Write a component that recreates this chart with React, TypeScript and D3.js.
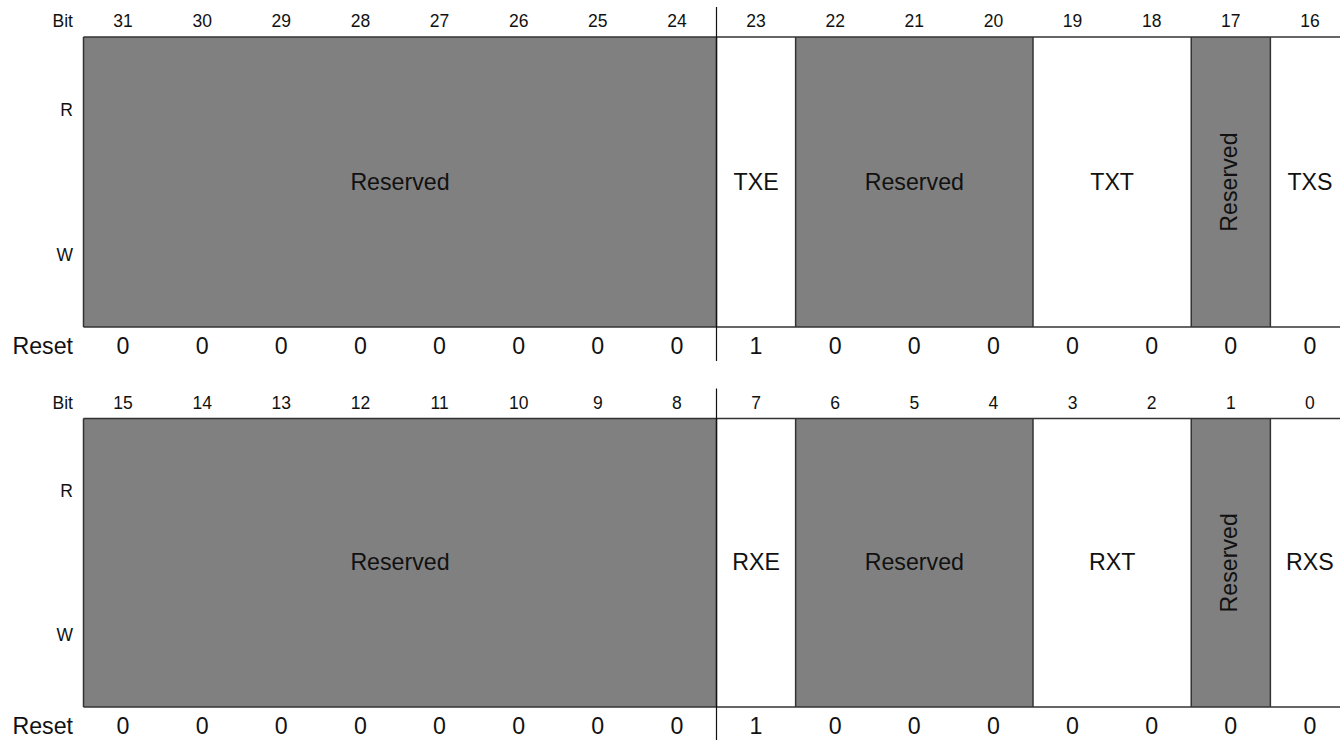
import React from "react";
import * as d3 from "d3";

const bitsHigh = [31, 30, 29, 28, 27, 26, 25, 24, 23, 22, 21, 20, 19, 18, 17, 16];
const bitsLow = [15, 14, 13, 12, 11, 10, 9, 8, 7, 6, 5, 4, 3, 2, 1, 0];
const resetHigh = [0, 0, 0, 0, 0, 0, 0, 0, 1, 0, 0, 0, 0, 0, 0, 0];
const resetLow = [0, 0, 0, 0, 0, 0, 0, 0, 1, 0, 0, 0, 0, 0, 0, 0];
const fieldNamesHigh = ["Reserved", "TXE", "Reserved", "TXT", "Reserved", "TXS"];
const fieldNamesLow = ["Reserved", "RXE", "Reserved", "RXT", "Reserved", "RXS"];
const fieldMsbOffset = [0, 8, 9, 12, 14, 15];
const fieldLsbOffset = [7, 8, 11, 13, 14, 15];
const fieldReserved = [true, false, true, false, true, false];
const accessLabels = ["R", "W"];

const W = 1340;
const H = 740;
const FONT = "'Liberation Sans', Arial, Helvetica, sans-serif";
const LEFT = 83.5;
const COLW = 79.125;
const SEP_INDEX = 8;
const STROKE = "#333";
const SMALL = 17.5;
const BIG = 23.2;

function Register({ bits, reset, names, top, bottom, sepBottom }: any) {
  const x = d3
    .scaleBand<number>()
    .domain(bits)
    .range([LEFT, LEFT + COLW * bits.length])
    .padding(0);
  const y = d3.scaleLinear().domain([0, 1]).range([top, bottom]);
  const sepX = x(bits[SEP_INDEX])!;
  const rightEdge = LEFT + COLW * bits.length;
  return (
    <g>
      <text x={73} y={top - 10} textAnchor="end" fontSize={SMALL} fontFamily={FONT} fill="#111">
        Bit
      </text>
      {bits.map((b: number) => (
        <text
          key={"b" + b}
          x={x(b)! + x.bandwidth() / 2}
          y={top - 10}
          textAnchor="middle"
          fontSize={SMALL}
          fontFamily={FONT}
          fill="#111"
        >
          {b}
        </text>
      ))}
      {accessLabels.map((l, i) => (
        <text
          key={l}
          x={73}
          y={y(i === 0 ? 0.25 : 0.75) + 6}
          textAnchor="end"
          fontSize={SMALL}
          fontFamily={FONT}
          fill="#111"
        >
          {l}
        </text>
      ))}
      {names.map((n: string, i: number) => {
        const x0 = x(bits[fieldMsbOffset[i]])!;
        const x1 = x(bits[fieldLsbOffset[i]])! + x.bandwidth();
        const cx = (x0 + x1) / 2;
        const cy = (top + bottom) / 2;
        const vertical = fieldMsbOffset[i] === fieldLsbOffset[i] && fieldReserved[i];
        return (
          <g key={"f" + i}>
            <rect
              x={x0}
              y={top}
              width={x1 - x0}
              height={bottom - top}
              fill={fieldReserved[i] ? "#808080" : "#ffffff"}
              stroke="none"
            />
            {vertical ? (
              <text
                transform={`translate(${cx + 6.5},${cy}) rotate(-90)`}
                textAnchor="middle"
                fontSize={BIG}
                fontFamily={FONT}
                fill="#111"
              >
                {n}
              </text>
            ) : (
              <text x={cx} y={cy + 7.5} textAnchor="middle" fontSize={BIG} fontFamily={FONT} fill="#111">
                {n}
              </text>
            )}
          </g>
        );
      })}
      {names.map((n: string, i: number) => {
        const x0 = x(bits[fieldMsbOffset[i]])!;
        return <line key={"v" + i} x1={x0} x2={x0} y1={top} y2={bottom} stroke={STROKE} strokeWidth={1.5} />;
      })}
      <line x1={LEFT} x2={rightEdge} y1={top} y2={top} stroke={STROKE} strokeWidth={1.5} />
      <line x1={LEFT} x2={rightEdge} y1={bottom} y2={bottom} stroke={STROKE} strokeWidth={1.5} />
      <line x1={sepX} x2={sepX} y1={top - 30} y2={sepBottom} stroke="#111" strokeWidth={1.2} />
      <text x={73} y={bottom + 27} textAnchor="end" fontSize={BIG} fontFamily={FONT} fill="#111">
        Reset
      </text>
      {bits.map((b: number, i: number) => (
        <text
          key={"r" + b}
          x={x(b)! + x.bandwidth() / 2}
          y={bottom + 27}
          textAnchor="middle"
          fontSize={BIG}
          fontFamily={FONT}
          fill="#111"
        >
          {reset[i]}
        </text>
      ))}
    </g>
  );
}

export default function App() {
  return (
    <svg
      width={W}
      height={H}
      viewBox={`0 0 ${W} ${H}`}
      style={{ position: "absolute", left: 0, top: 0, background: "#fff" }}
    >
      <rect x={0} y={0} width={W} height={H} fill="#fff" />
      <Register bits={bitsHigh} reset={resetHigh} names={fieldNamesHigh} top={37} bottom={327} sepBottom={361} />
      <Register bits={bitsLow} reset={resetLow} names={fieldNamesLow} top={418.5} bottom={707} sepBottom={742} />
    </svg>
  );
}
